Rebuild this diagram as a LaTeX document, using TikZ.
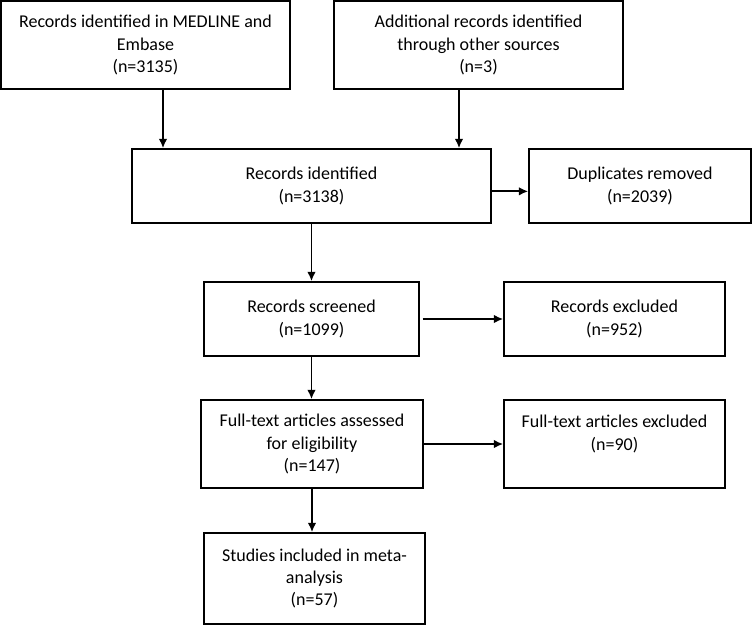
\documentclass[tikz,border=0pt]{standalone}
\usepackage{fontspec}
\setmainfont{Carlito}
\usetikzlibrary{positioning}
\usetikzlibrary{arrows.meta}

\begin{document}
\begin{tikzpicture}[x=0.75pt,y=-0.75pt]
    \tikzset{box/.style={rectangle, draw=black, line width=1.3pt, align=center, inner sep=0pt, font=\fontsize{13.5}{16.8}\selectfont}}
    \tikzset{arr/.style={-{Latex[length=7pt,width=6.5pt]}, line width=1.3pt}}

    % Rahmen
    \useasboundingbox (0,0) rectangle (752,626);

    % Quellen
    \node[box, minimum width=216.75pt, minimum height=66pt] (src1) at (145.5,45) {Records identified in MEDLINE and\\Embase\\(n=3135)};
    \node[box, minimum width=216.75pt, minimum height=66pt] (src2) at (478.5,45) {Additional records identified\\through other sources\\(n=3)};

    % Identifikation
    \node[box, minimum width=269.25pt, minimum height=55.5pt] (ident) at (311.5,186) {Records identified\\(n=3138)};
    \node[box, minimum width=166.5pt, minimum height=55.5pt] (dupl) at (640,186) {Duplicates removed\\(n=2039)};

    % Screening
    \node[box, minimum width=161.25pt, minimum height=55.5pt] (screen) at (311.5,319) {Records screened\\(n=1099)};
    \node[box, minimum width=165.75pt, minimum height=55.5pt] (excl) at (614.5,319) {Records excluded\\(n=952)};

    % Eignung
    \node[box, minimum width=166.5pt, minimum height=66pt] (full) at (312,444) {Full-text articles assessed\\for eligibility\\(n=147)};
    \node[box, minimum width=165.75pt, minimum height=66pt] (fullexcl) at (614.5,444) {Full-text articles excluded\\(n=90)\\~};

    % Eingeschlossen
    \node[box, minimum width=165.75pt, minimum height=68.25pt] (incl) at (314.5,578.5) {Studies included in meta-\\analysis\\(n=57)};

    % Pfeile
    \coordinate (inA) at (163,149);
    \coordinate (inB) at (459,149);
    \draw[arr] (src1.south -| inA) -- (inA |- ident.north);
    \draw[arr] (src2.south -| inB) -- (inB |- ident.north);
    \draw[arr] ([yshift=-4pt]ident.east) -- ([yshift=-4pt]dupl.west);
    \draw[arr] (ident.south) -- (screen.north);
    \draw[arr] ([xshift=2pt]screen.east) -- (excl.west);
    \draw[arr] (screen.south) -- (screen.south |- full.north);
    \draw[arr] (full.east) -- (fullexcl.west);
    \draw[arr] (full.south) -- (full.south |- incl.north);

\end{tikzpicture}
\end{document}
